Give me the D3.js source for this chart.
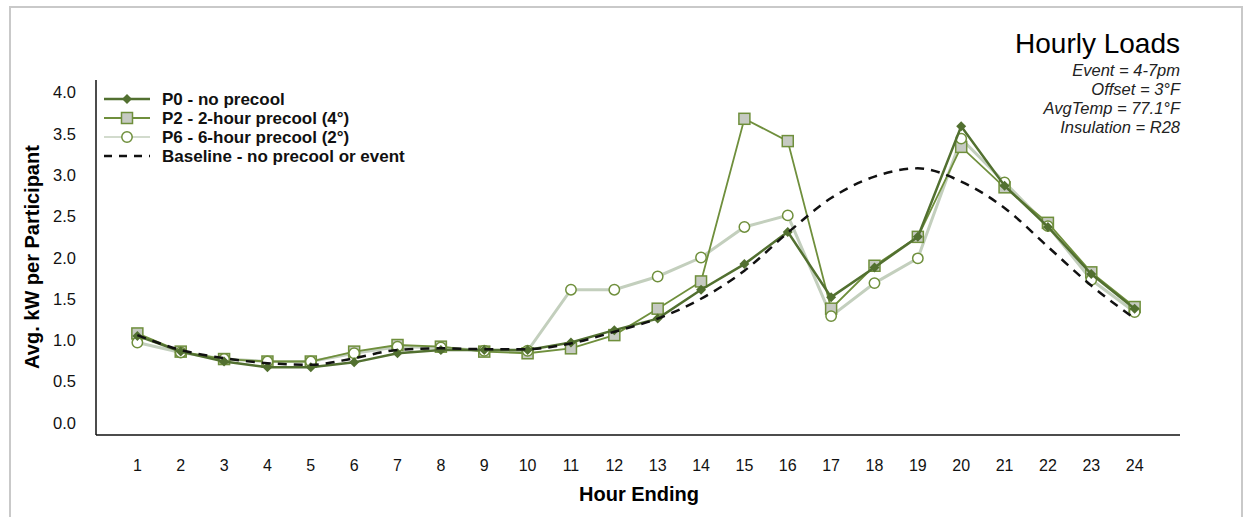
<!doctype html>
<html lang="en">
<head>
<meta charset="UTF-8">
<title>Hourly Loads</title>
<script src="https://cdn.jsdelivr.net/npm/d3@7"></script>
<style>
  body { margin: 0; background: #fff; }
  text { font-family: "Liberation Sans", Arial, sans-serif; }
</style>
</head>
<body>
<div class="canvas"></div>
<script>
  // data
  const hours = d3.range(1, 25);
  const p0 = [1.05, 0.86, 0.74, 0.67, 0.67, 0.73, 0.84, 0.88, 0.88, 0.88, 0.97, 1.12, 1.26, 1.61, 1.92, 2.31, 1.52, 1.88, 2.25, 3.59, 2.87, 2.37, 1.80, 1.38];
  const p2 = [1.08, 0.86, 0.77, 0.74, 0.74, 0.86, 0.94, 0.92, 0.86, 0.84, 0.90, 1.06, 1.38, 1.71, 3.68, 3.41, 1.38, 1.90, 2.25, 3.34, 2.85, 2.42, 1.82, 1.40];
  const p6 = [0.97, 0.85, 0.77, 0.74, 0.74, 0.84, 0.92, 0.91, 0.87, 0.87, 1.61, 1.61, 1.77, 2.00, 2.37, 2.51, 1.29, 1.69, 1.99, 3.44, 2.91, 2.38, 1.73, 1.34];
  const baseline = [1.06, 0.88, 0.78, 0.72, 0.70, 0.78, 0.88, 0.90, 0.89, 0.89, 0.96, 1.10, 1.26, 1.50, 1.84, 2.30, 2.72, 2.98, 3.08, 2.92, 2.60, 2.13, 1.66, 1.26];
  const yTicks = [0, 0.5, 1, 1.5, 2, 2.5, 3, 3.5, 4];
  const legendNames = ['P0 - no precool', 'P2 - 2-hour precool (4°)', 'P6 - 6-hour precool (2°)', 'Baseline - no precool or event'];
  const notes = ['Event = 4-7pm', 'Offset = 3°F', 'AvgTemp = 77.1°F', 'Insulation = R28'];

  const W = 1257, H = 517;
  const svg = d3.select('.canvas').append('svg')
    .attr('width', W)
    .attr('height', H);

  // outer gray frame
  svg.append('rect')
    .attr('x', 10).attr('y', 7)
    .attr('width', 1232).attr('height', 530)
    .attr('fill', 'none')
    .attr('stroke', '#c9c9c9')
    .attr('stroke-width', 2);

  const x = d3.scaleLinear().domain([0, 25]).range([94, 1178]);
  const y = d3.scaleLinear().domain([-0.15, 4.15]).range([435, 80]);

  // axis frame lines
  svg.append('line')
    .attr('x1', 96).attr('x2', 96)
    .attr('y1', y(4.15)).attr('y2', y(-0.15))
    .attr('stroke', '#111').attr('stroke-width', 1.5);
  svg.append('line')
    .attr('x1', 96).attr('x2', x(25) + 2)
    .attr('y1', y(-0.15)).attr('y2', y(-0.15))
    .attr('stroke', '#111').attr('stroke-width', 1.5);

  // y tick labels
  svg.selectAll('.ytick')
    .data(yTicks)
    .enter().append('text')
    .attr('class', 'ytick')
    .attr('x', 76)
    .attr('y', d => y(d) + 6)
    .attr('text-anchor', 'end')
    .style('font-size', '16.5px')
    .attr('fill', '#111')
    .text(d => d.toFixed(1));

  // x tick labels
  svg.selectAll('.xtick')
    .data(hours)
    .enter().append('text')
    .attr('class', 'xtick')
    .attr('x', d => x(d))
    .attr('y', 471)
    .attr('text-anchor', 'middle')
    .style('font-size', '16px')
    .attr('fill', '#111')
    .text(d => d);

  // axis titles
  svg.append('text')
    .attr('transform', 'translate(39, 257) rotate(-90)')
    .attr('text-anchor', 'middle')
    .style('font-size', '20px')
    .style('font-weight', 'bold')
    .text('Avg. kW per Participant');

  svg.append('text')
    .attr('x', 639).attr('y', 501)
    .attr('text-anchor', 'middle')
    .style('font-size', '20px')
    .style('font-weight', 'bold')
    .text('Hour Ending');

  // title + notes
  svg.append('text')
    .attr('x', 1180).attr('y', 53)
    .attr('text-anchor', 'end')
    .style('font-size', '28px')
    .text('Hourly Loads');

  svg.selectAll('.note')
    .data(notes)
    .enter().append('text')
    .attr('class', 'note')
    .attr('x', 1180)
    .attr('y', (d, i) => 76 + i * 19)
    .attr('text-anchor', 'end')
    .style('font-size', '16.5px')
    .style('font-style', 'italic')
    .attr('fill', '#222')
    .text(d => d);

  // lines
  const line = d3.line().x((d, i) => x(hours[i])).y(d => y(d));
  const smooth = d3.line().x((d, i) => x(hours[i])).y(d => y(d)).curve(d3.curveMonotoneX);

  const dark = '#527030';
  const mid = '#6f8f3c';
  const pale = '#c3cfbd';
  const diamond = d3.symbol(d3.symbolSquare, 50);

  // P6
  svg.append('path').datum(p6)
    .attr('d', line)
    .attr('fill', 'none')
    .attr('stroke', pale)
    .attr('stroke-width', 3);
  // P2
  svg.append('path').datum(p2)
    .attr('d', line)
    .attr('fill', 'none')
    .attr('stroke', mid)
    .attr('stroke-width', 1.8);
  svg.selectAll('.sq')
    .data(p2)
    .enter().append('rect')
    .attr('class', 'sq')
    .attr('x', (d, i) => x(hours[i]) - 5.5)
    .attr('y', d => y(d) - 5.5)
    .attr('width', 11).attr('height', 11)
    .attr('fill', '#c6cac2')
    .attr('stroke', mid)
    .attr('stroke-width', 1.5);
  svg.selectAll('.circ')
    .data(p6)
    .enter().append('circle')
    .attr('class', 'circ')
    .attr('cx', (d, i) => x(hours[i]))
    .attr('cy', d => y(d))
    .attr('r', 5.2)
    .attr('fill', '#fff')
    .attr('stroke', mid)
    .attr('stroke-width', 1.5);
  // P0
  svg.append('path').datum(p0)
    .attr('d', line)
    .attr('fill', 'none')
    .attr('stroke', dark)
    .attr('stroke-width', 2.5);
  svg.selectAll('.dia')
    .data(p0)
    .enter().append('path')
    .attr('class', 'dia')
    .attr('d', diamond)
    .attr('transform', (d, i) => `translate(${x(hours[i])}, ${y(d)}) rotate(45)`)
    .attr('fill', dark);
  // Baseline
  svg.append('path').datum(baseline)
    .attr('d', smooth)
    .attr('fill', 'none')
    .attr('stroke', '#111')
    .attr('stroke-width', 2.5)
    .attr('stroke-dasharray', '9,7');

  // legend
  const lg = svg.append('g').attr('transform', 'translate(104, 99)');
  const rowH = 19;
  lg.selectAll('text')
    .data(legendNames)
    .enter().append('text')
    .attr('x', 58)
    .attr('y', (d, i) => i * rowH + 6)
    .style('font-size', '17px')
    .style('font-weight', 'bold')
    .attr('fill', '#111')
    .text(d => d);

  lg.append('line').attr('x1', 0).attr('x2', 46).attr('y1', 0).attr('y2', 0)
    .attr('stroke', dark).attr('stroke-width', 2.5);
  lg.append('path').attr('d', diamond)
    .attr('transform', 'translate(23, 0) rotate(45)').attr('fill', dark);

  lg.append('line').attr('x1', 0).attr('x2', 46).attr('y1', rowH).attr('y2', rowH)
    .attr('stroke', mid).attr('stroke-width', 1.8);
  lg.append('rect').attr('x', 17.5).attr('y', rowH - 5.5).attr('width', 11).attr('height', 11)
    .attr('fill', '#c6cac2').attr('stroke', mid).attr('stroke-width', 1.5);

  lg.append('line').attr('x1', 0).attr('x2', 46).attr('y1', rowH * 2).attr('y2', rowH * 2)
    .attr('stroke', pale).attr('stroke-width', 1.5);
  lg.append('circle').attr('cx', 23).attr('cy', rowH * 2).attr('r', 5.2)
    .attr('fill', '#fff').attr('stroke', mid).attr('stroke-width', 1.5);

  lg.append('line').attr('x1', 0).attr('x2', 46).attr('y1', rowH * 3).attr('y2', rowH * 3)
    .attr('stroke', '#111').attr('stroke-width', 2.5).attr('stroke-dasharray', '8,7');
</script>
</body>
</html>
